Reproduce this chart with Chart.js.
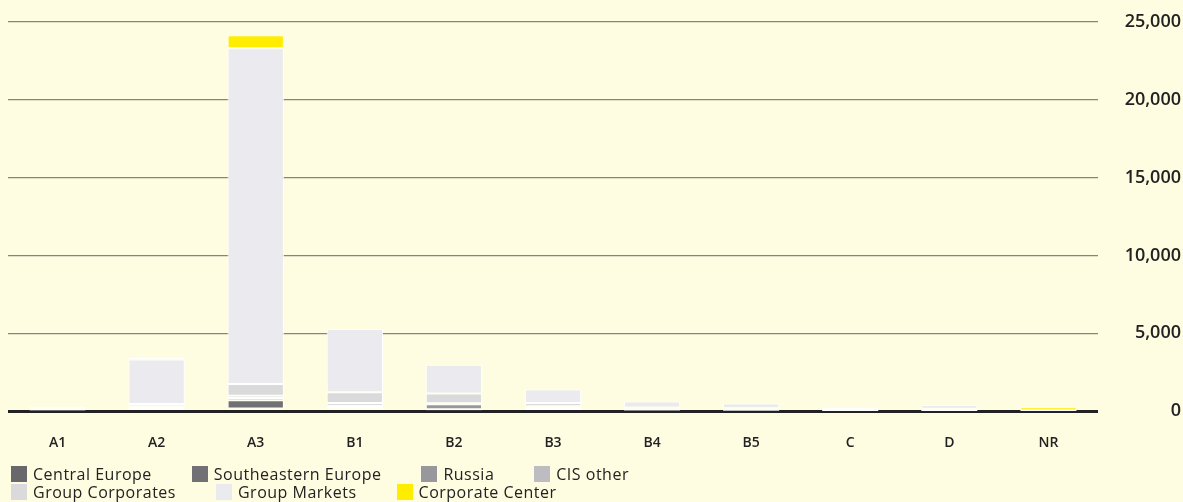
<!DOCTYPE html>
<html>
<head>
<meta charset="utf-8">
<script src="https://cdn.jsdelivr.net/npm/chart.js@4.4.1/dist/chart.umd.min.js"></script>
<style>
  html, body { margin: 0; padding: 0; background: #fffde1; }
  #wrap { position: relative; width: 1183px; height: 502px; }
  #myChart { position: absolute; left: 0; top: 0; }
  #legend {
    position: absolute; left: 11px; top: 465px;
    font-family: "Open Sans", sans-serif; font-size: 16px; font-weight: 500;
    color: #222222; letter-spacing: 0.5px;
  }
  #legend .row { display: flex; height: 18px; align-items: center; gap: 40px; }
  #legend .item { display: flex; align-items: center; white-space: nowrap; }
  #legend .box { width: 16px; height: 16px; margin-right: 6px; }
</style>
</head>
<body>
<div id="wrap">
  <canvas id="myChart" width="1183" height="502"></canvas>
  <div id="legend"></div>
</div>
<script>
// Rating categories on the x axis
const labels = ['A1', 'A2', 'A3', 'B1', 'B2', 'B3', 'B4', 'B5', 'C', 'D', 'NR'];

// Stacked segment values per region
const centralEurope      = [40, 70, 180, 150, 60, 80, 40, 30, 20, 20, 5];
const southeasternEurope = [20, 60, 530, 120, 60, 60, 30, 30, 15, 20, 5];
const russia             = [20, 80, 130, 100, 330, 60, 40, 30, 15, 20, 5];
const cisOther           = [30, 100, 150, 150, 60, 120, 60, 40, 20, 30, 5];
const groupCorporates    = [40, 150, 760, 700, 620, 200, 60, 60, 30, 60, 10];
const groupMarkets       = [140, 2860, 21560, 4060, 1860, 880, 390, 310, 125, 250, 20];
const corporateCenter    = [0, 100, 840, 0, 0, 0, 0, 0, 0, 0, 200];

// Right axis ticks
const yTicks = [0, 5000, 10000, 15000, 20000, 25000];

// Legend rows (which series go on which line)
const legendRows = [[0, 1, 2, 3], [4, 5, 6]];

const textColor = '#222222';
const fontFamily = '"Open Sans", sans-serif';

function series(label, data, color) {
    return {
        label: label,
        data: data,
        backgroundColor: color,
        borderColor: '#ffffff',
        borderWidth: 1,
        borderSkipped: false,
        categoryPercentage: 0.8,
        barPercentage: 0.71
    };
}

const ctx = document.getElementById('myChart').getContext('2d');

const chart = new Chart(ctx, {
    type: 'bar',
    data: {
        labels: labels,
        datasets: [
            series('Central Europe', centralEurope, '#68686c'),
            series('Southeastern Europe', southeasternEurope, '#717175'),
            series('Russia', russia, '#98989c'),
            series('CIS other', cisOther, '#bdbdc1'),
            series('Group Corporates', groupCorporates, '#dadadd'),
            series('Group Markets', groupMarkets, '#ebebef'),
            series('Corporate Center', corporateCenter, '#ffed00')
        ]
    },
    options: {
        responsive: false,
        animation: false,
        layout: {
            padding: { top: 22, right: 2, bottom: 36, left: 8 }
        },
        scales: {
            x: {
                stacked: true,
                grid: { display: false },
                border: { display: false },
                ticks: {
                    color: textColor,
                    padding: 15,
                    font: { family: fontFamily, size: 14, weight: '600' }
                }
            },
            y: {
                stacked: true,
                position: 'right',
                min: 0,
                max: 25000,
                afterBuildTicks: function (axis) {
                    axis.ticks = yTicks.map(v => ({ value: v }));
                },
                afterFit: function (axis) {
                    axis.width = 83;
                },
                grid: {
                    drawTicks: false,
                    color: c => (c.tick && c.tick.value === 0) ? '#222222' : '#85857c',
                    lineWidth: c => (c.tick && c.tick.value === 0) ? 3 : 1.3
                },
                border: { display: false },
                ticks: {
                    color: textColor,
                    padding: 0,
                    crossAlign: 'far',
                    font: { family: fontFamily, size: 18, weight: '600' },
                    callback: v => v.toLocaleString('en-US')
                }
            }
        },
        plugins: {
            tooltip: { enabled: false },
            legend: { display: false }
        }
    }
});

// HTML legend built from the chart's datasets
const legendEl = document.getElementById('legend');
legendRows.forEach(row => {
    const rowEl = document.createElement('div');
    rowEl.className = 'row';
    row.forEach(i => {
        const ds = chart.data.datasets[i];
        const item = document.createElement('div');
        item.className = 'item';
        const box = document.createElement('span');
        box.className = 'box';
        box.style.background = ds.backgroundColor;
        const txt = document.createElement('span');
        txt.textContent = ds.label;
        item.appendChild(box);
        item.appendChild(txt);
        rowEl.appendChild(item);
    });
    legendEl.appendChild(rowEl);
});
</script>
</body>
</html>
